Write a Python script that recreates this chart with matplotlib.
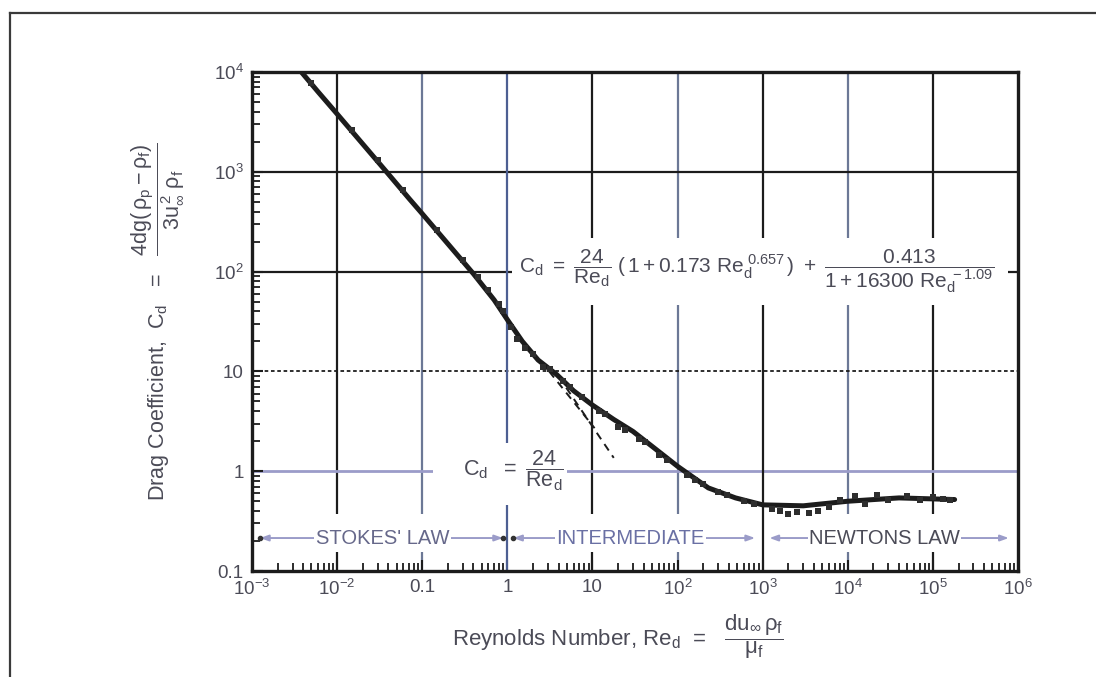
import matplotlib

matplotlib.use("Agg")
import matplotlib.pyplot as plt  # noqa: E402
from matplotlib.lines import Line2D  # noqa: E402
from matplotlib.patches import Rectangle  # noqa: E402
from matplotlib.ticker import LogLocator, NullFormatter, FixedLocator, FixedFormatter  # noqa: E402

INK = "#1c1c1c"
TEXT = "#4b4b57"
BLUE = "#4d5f92"
BLUEGRAY = "#6c7896"
LAVENDER = "#9b9cc9"
WHITE = "#ffffff"

plt.rcParams.update({
    "font.family": ["Liberation Sans", "DejaVu Sans"],
    "mathtext.fontset": "custom",
    "mathtext.rm": "Liberation Sans",
    "mathtext.it": "Liberation Sans:italic",
    "mathtext.bf": "Liberation Sans:bold",
})

# drag curve (Re_d, C_d)
re_curve = [0.0038, 0.006, 0.01, 0.02, 0.04, 0.07, 0.1, 0.2, 0.4, 0.7, 1.0, 1.5,
            2.3, 3.8, 6.0, 10, 17.8, 30, 50, 100, 230, 480, 1000, 3000, 1e4,
            4e4, 1.8e5]
cd_curve = [10000, 6300, 3800, 1900, 950, 540, 380, 190, 95, 52, 33, 20,
            13, 9.3, 6.4, 4.6, 3.3, 2.5, 1.78, 1.12, 0.68, 0.54, 0.46, 0.45, 0.5,
            0.54, 0.52]

# scattered measurements around the band
re_scatter = [0.005, 0.015, 0.03, 0.06, 0.15, 0.3, 0.45, 0.6, 0.8, 0.9, 1.1,
              1.3, 1.6, 2.0, 2.6, 3.2, 4.5, 5.5, 7.5, 12, 14, 20, 24, 35, 42,
              60, 75, 130, 160, 200, 300, 380, 600, 800, 1300, 1600, 2000, 2500,
              3500, 4500, 6000, 8000, 1.2e4, 1.6e4, 2.2e4, 3e4, 5e4, 7e4, 1e5,
              1.3e5, 1.6e5]
cd_scatter = [7800, 2600, 1300, 650, 260, 130, 88, 66, 47, 40, 28, 21, 17, 15,
              11, 10.5, 8.0, 7.0, 5.6, 4.0, 3.7, 2.8, 2.6, 2.1, 1.95, 1.45, 1.3,
              0.92, 0.82, 0.74, 0.62, 0.58, 0.5, 0.47, 0.42, 0.40, 0.37, 0.39,
              0.38, 0.40, 0.44, 0.52, 0.56, 0.47, 0.58, 0.52, 0.56, 0.51, 0.55,
              0.53, 0.51]

# Stokes-law extensions (dashed)
re_stokes_a = [3.1, 10.6]
cd_stokes_a = [10.0, 2.7]
re_stokes_b = [4.0, 17.8]
cd_stokes_b = [8.9, 1.36]

x_ticks = [1e-3, 1e-2, 1e-1, 1, 10, 1e2, 1e3, 1e4, 1e5, 1e6]
x_labels = [r"$10^{-3}$", r"$10^{-2}$", "0.1", "1", "10", r"$10^{2}$",
            r"$10^{3}$", r"$10^{4}$", r"$10^{5}$", r"$10^{6}$"]
y_ticks = [0.1, 1, 10, 1e2, 1e3, 1e4]
y_labels = ["0.1", "1", "10", r"$10^{2}$", r"$10^{3}$", r"$10^{4}$"]

grid_x = [1e-2, 1e-1, 1, 10, 1e2, 1e3, 1e4, 1e5]
grid_x_colors = [INK, BLUEGRAY, BLUE, INK, BLUEGRAY, INK, BLUEGRAY, INK]

regime_names = ["STOKES' LAW", "INTERMEDIATE", "NEWTONS LAW"]
regime_centres = [0.034, 27.7, 2.7e4]
regime_left = [1.24e-3, 1.17, 1.2e3]
regime_right = [0.89, 815, 7.8e5]
regime_colors = ["#66688a", "#6a70a4", "#4b4b57"]

fig = plt.figure(figsize=(10.96, 6.77), dpi=100)
ax = fig.add_axes([252 / 1096, 1 - 571 / 677, 766 / 1096, 499 / 677])
ax.set_xscale("log")
ax.set_yscale("log")
ax.set_xlim(1e-3, 1e6)
ax.set_ylim(0.1, 1e4)

# grid
for gx, c in zip(grid_x, grid_x_colors):
    z = 1.6 if gx in (1, 1e3) else 1
    ax.axvline(gx, color=c, lw=1.6, zorder=z)
ax.axhline(1e3, color=INK, lw=1.6, zorder=1)
ax.axhline(1e2, color=INK, lw=1.6, zorder=1)
ax.axhline(10, color=INK, lw=1.3, ls=(0, (2, 1.5)), zorder=1)
ax.axhline(1, color=LAVENDER, lw=2.0, zorder=1)

# white gaps in the grid behind the labels
ax.axhspan(0.155, 0.37, color=WHITE, zorder=1.5, lw=0)
ax.add_patch(Rectangle((1.15, 46), 7.6e5 - 1.15, 217 - 46, facecolor=WHITE,
                       edgecolor="none", zorder=2))
ax.add_patch(Rectangle((0.134, 0.46), 5.0 - 0.134, 1.92 - 0.46, facecolor=WHITE,
                       edgecolor="none", zorder=2))

# data
ax.plot(re_stokes_a, cd_stokes_a, color=INK, lw=1.4, ls=(0, (4, 3)), zorder=3)
ax.plot(re_stokes_b, cd_stokes_b, color=INK, lw=1.4, ls=(0, (4, 3)), zorder=3)
ax.plot(re_curve, cd_curve, color=INK, lw=3.6, zorder=3, solid_capstyle="round")
ax.scatter(re_scatter, cd_scatter, s=16, color="#2e2e2e", marker="s", lw=0,
           zorder=3)

# equations
ax.text(1.37, 100,
        r"$\mathrm{C_d\ =\ \dfrac{24}{Re_d}\ (\,1 + 0.173\ Re_d^{\ 0.657}\,)\ +\ "
        r"\dfrac{0.413}{1 + 16300\ Re_d^{\ -1.09}}}$",
        fontsize=15, color=TEXT, ha="left", va="center", zorder=4)
ax.text(0.30, 1, r"$\mathrm{C_d\ \ =\ \dfrac{24}{Re_d}}$",
        fontsize=15.5, color=TEXT, ha="left", va="center", zorder=4)

# flow regimes
row = 0.214
for name, cx, xl, xr, c in zip(regime_names, regime_centres, regime_left,
                               regime_right, regime_colors):
    for end in (xl, xr):
        ax.annotate("", xy=(end, row), xytext=(cx, row),
                    arrowprops=dict(arrowstyle="-|>,head_length=0.5,head_width=0.18",
                                    color=LAVENDER, lw=1.4, shrinkA=0, shrinkB=0),
                    zorder=3)
    ax.text(cx, row, name, fontsize=14.5, color=c, ha="center", va="center",
            zorder=4, bbox=dict(facecolor=WHITE, edgecolor="none", pad=1.0))
ax.plot([1.24e-3, 0.89, 1.17], [row] * 3, "o", ms=3, color="#333333", zorder=4)
ax.plot([1e3, 1e3], [row * 0.9, row * 1.1], color=INK, lw=1.4, zorder=4)

# axes styling
for side in ("top", "right", "left", "bottom"):
    ax.spines[side].set_linewidth(2.4)
    ax.spines[side].set_color(INK)
    ax.spines[side].set_zorder(5)
ax.xaxis.set_major_locator(FixedLocator(x_ticks))
ax.xaxis.set_major_formatter(FixedFormatter(x_labels))
ax.yaxis.set_major_locator(FixedLocator(y_ticks))
ax.yaxis.set_major_formatter(FixedFormatter(y_labels))
ax.xaxis.set_minor_locator(LogLocator(base=10, subs=range(2, 10), numticks=100))
ax.yaxis.set_minor_locator(LogLocator(base=10, subs=range(2, 10), numticks=100))
ax.xaxis.set_minor_formatter(NullFormatter())
ax.yaxis.set_minor_formatter(NullFormatter())
ax.tick_params(which="both", direction="in", top=False, right=False,
               colors=INK, labelcolor=TEXT, labelsize=13.5)
ax.tick_params(which="major", length=8, width=1.5, pad=6)
ax.tick_params(which="minor", length=6, width=1.3)

# axis titles
fig.text(0.564, 1 - 637 / 677,
         r"Reynolds Number, $\mathrm{Re_d}$  =   "
         r"$\mathrm{\dfrac{du_\infty\,\rho_f}{\mu_f}}$",
         fontsize=16, color=TEXT, ha="center", va="center")
fig.text(158 / 1096, 1 - 322 / 677,
         r"Drag Coefficient,  $\mathrm{C_d}$   =   "
         r"$\mathrm{\dfrac{4dg(\,\rho_p - \rho_f)}{3u_\infty^{\,2}\ \rho_f}}$",
         fontsize=15.5, color=TEXT, ha="center", va="center", rotation=90)

# page border
fig.add_artist(Line2D([10 / 1096, 10 / 1096], [0, 1 - 13 / 677], color="#3a3a3a",
                      lw=1.6, transform=fig.transFigure))
fig.add_artist(Line2D([10 / 1096, 1], [1 - 13 / 677, 1 - 13 / 677], color="#3a3a3a",
                      lw=1.6, transform=fig.transFigure))

fig.savefig("out.png", dpi=100, facecolor=WHITE)
